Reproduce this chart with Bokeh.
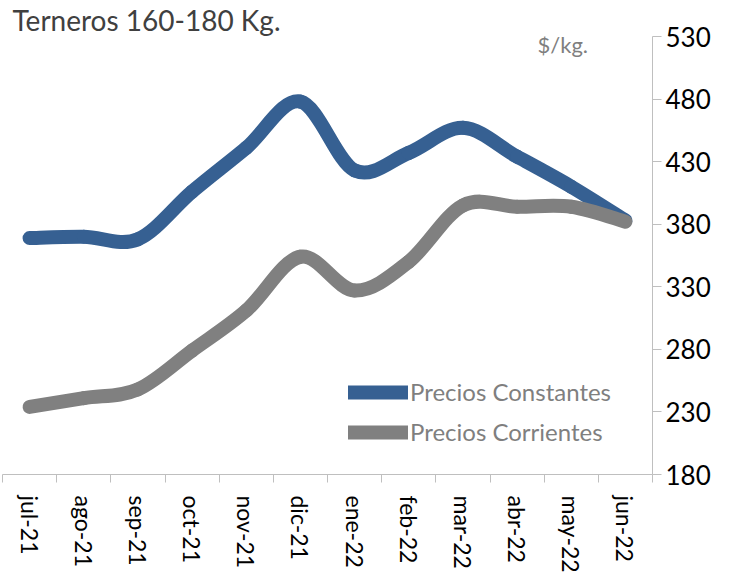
import numpy as np
from bokeh.plotting import figure
from bokeh.models import Range1d, FixedTicker, Label, Legend, LegendItem
from bokeh.embed import file_html
from bokeh.resources import INLINE

months = ["jul-21", "ago-21", "sep-21", "oct-21", "nov-21", "dic-21",
          "ene-22", "feb-22", "mar-22", "abr-22", "may-22", "jun-22"]
precios_constantes = [369, 370, 368, 406, 441, 478, 423, 437, 457, 434, 410, 383]
precios_corrientes = [234, 241, 248, 279, 311, 354, 327, 350, 395, 394, 394, 382]
y_ticks = [180, 230, 280, 330, 380, 430, 480, 530]

x_pos = np.arange(len(months)) + 0.5


def smooth_segments(xs, ys):
    """Bezier control points (Catmull-Rom style, like a spreadsheet's smoothed line)."""
    out = {}
    for name, v in (("x", xs), ("y", ys)):
        v = np.asarray(v, dtype=float)
        n = len(v)
        pad = np.concatenate([[v[0]], v, [v[-1]]])
        out[name + "0"] = pad[1:n]
        out[name + "1"] = pad[2:n + 1]
        out["c" + name + "0"] = pad[1:n] + (pad[2:n + 1] - pad[0:n - 1]) / 6.0
        out["c" + name + "1"] = pad[2:n + 1] - (pad[3:n + 2] - pad[1:n]) / 6.0
    return out


p = figure(frame_width=650, frame_height=438,
           x_range=Range1d(0, 12), y_range=Range1d(180, 530),
           y_axis_location="right", output_backend="svg", toolbar_location=None,
           min_border_left=2, min_border_top=36, min_border_right=0, min_border_bottom=0,
           outline_line_color=None, background_fill_color="white",
           title="Terneros 160-180 Kg.")
p.grid.visible = False

p.title.text_font = "Lato"
p.title.text_font_size = "28px"
p.title.text_font_style = "normal"
p.title.text_color = "#404040"
p.title.align = "left"
p.title.offset = 10
p.title.standoff = 0

BLUE = "#366092"
GRAY = "#808080"

sb = smooth_segments(x_pos, precios_constantes)
rb = p.bezier(x0=sb["x0"], y0=sb["y0"], x1=sb["x1"], y1=sb["y1"],
              cx0=sb["cx0"], cy0=sb["cy0"], cx1=sb["cx1"], cy1=sb["cy1"],
              line_color=BLUE, line_width=14, line_cap="round")
sg = smooth_segments(x_pos, precios_corrientes)
rg = p.bezier(x0=sg["x0"], y0=sg["y0"], x1=sg["x1"], y1=sg["y1"],
              cx0=sg["cx0"], cy0=sg["cy0"], cx1=sg["cx1"], cy1=sg["cy1"],
              line_color=GRAY, line_width=14, line_cap="round")

AX = "#bfbfbf"
FONT = "Lato"

# right value axis
ya = p.yaxis[0]
ya.ticker = FixedTicker(ticks=y_ticks)
ya.axis_line_color = AX
ya.major_tick_line_color = AX
ya.major_tick_out = 9
ya.major_tick_in = 0
ya.minor_tick_line_color = None
ya.major_label_standoff = 4
ya.major_label_text_font = FONT
ya.major_label_text_font_size = "26px"
ya.major_label_text_color = "#000000"

# bottom category axis
xa = p.xaxis[0]
xa.ticker = FixedTicker(ticks=list(x_pos), minor_ticks=list(range(len(months) + 1)))
xa.major_label_overrides = {float(v): m for v, m in zip(x_pos, months)}
xa.axis_line_color = AX
xa.major_tick_line_color = None
xa.major_tick_out = 0
xa.major_tick_in = 0
xa.minor_tick_line_color = AX
xa.minor_tick_out = 8
xa.minor_tick_in = 0
xa.major_label_orientation = "vertical"
xa.major_label_standoff = 13
xa.major_label_text_font = FONT
xa.major_label_text_font_size = "23px"
xa.major_label_text_color = "#000000"

legend = Legend(items=[LegendItem(label="Precios Constantes", renderers=[rb]),
                       LegendItem(label="Precios Corrientes", renderers=[rg])],
                location=(346, 28), orientation="vertical",
                glyph_width=60, glyph_height=28, label_height=28, label_standoff=2,
                spacing=11, padding=0, margin=0,
                border_line_color=None, background_fill_alpha=0,
                label_text_font=FONT, label_text_font_size="24px",
                label_text_color="#7f7f7f")
p.add_layout(legend)

p.add_layout(Label(x=535, y=444, x_units="screen", y_units="screen",
                   text="$/kg.", text_baseline="top",
                   text_font=FONT, text_font_size="22px", text_color="#7f7f7f"))

open("out.html", "w").write(file_html(p, INLINE))
